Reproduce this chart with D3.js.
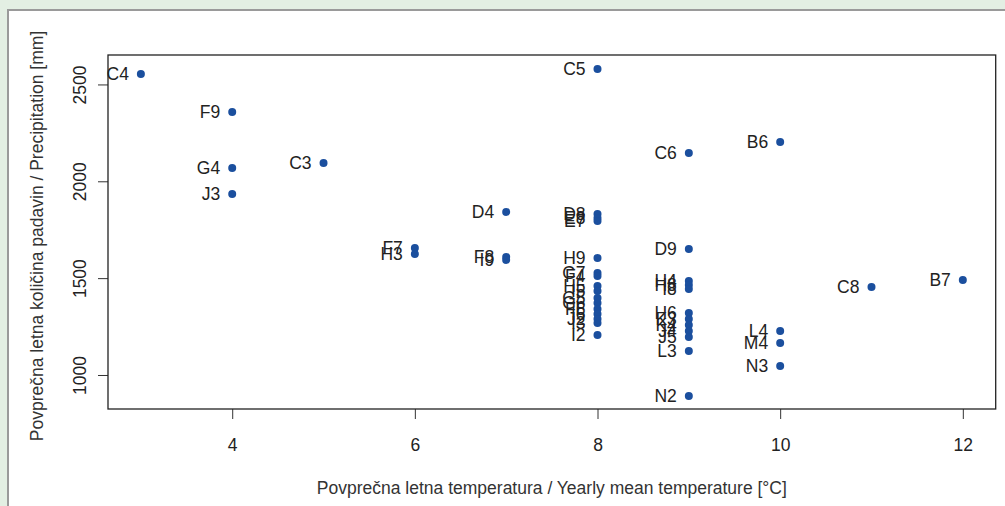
<!DOCTYPE html>
<html>
<head>
<meta charset="utf-8">
<script src="https://cdn.jsdelivr.net/npm/d3@7"></script>
<style>
html,body{margin:0;padding:0;background:#e3efe3;}
svg{display:block;}
text{font-family:"Liberation Sans",Arial,sans-serif;}
</style>
</head>
<body>
<svg id="c" width="1005" height="506"></svg>
<script>
const labels = ["C4","F9","G4","J3","C3","F7","H3","D4","F8","I9",
  "C5","D8","E8","E7","H9","G7","F4","H5","I5","G5","G6","F6","I6","J2","I3","I2",
  "C6","D9","H4","H8","I8","H6","K3","K4","J4","J5","L3","N2",
  "B6","L4","M4","N3","C8","B7"];
const temperature = [3,4,4,4,5,6,6,7,7,7,
  8,8,8,8,8,8,8,8,8,8,8,8,8,8,8,8,
  9,9,9,9,9,9,9,9,9,9,9,9,
  10,10,10,10,11,12];
const precipitation = [2554,2358,2069,1934,2095,1656,1625,1842,1609,1594,
  2580,1831,1811,1795,1604,1527,1511,1460,1434,1398,1372,1341,1315,1289,1268,1206,
  2146,1651,1485,1465,1444,1320,1289,1258,1227,1196,1124,892,
  2203,1227,1165,1046,1454,1490];
const xTicks = [4,6,8,10,12];
const yTicks = [1000,1500,2000,2500];
const xTitle = "Povprečna letna temperatura / Yearly mean temperature [°C]";
const yTitle = "Povprečna letna količina padavin / Precipitation [mm]";

const FS = 17.5;
const svg = d3.select("#c");
// panel
svg.append("rect").attr("x",8).attr("y",10).attr("width",1010).attr("height",510)
  .attr("fill","#fff").attr("stroke","#9a9a9a").attr("stroke-width",2);

const L=108, R=995.7, T=55, B=409;
const x = d3.scaleLinear().domain([2.64,12.36]).range([L,R]);
const y = d3.scaleLinear().domain([824.4,2652]).range([B,T]);

const g = svg.append("g");
// x axis
const xa = g.append("g").attr("transform",`translate(0,${B})`)
  .call(d3.axisBottom(x).tickValues(xTicks).tickSize(10).tickPadding(20).tickFormat(d3.format("d")));
xa.select(".domain").remove();
xa.selectAll("line").attr("stroke","#333");
xa.selectAll("text").attr("font-size",FS).attr("fill","#222");
// y axis
const ya = g.append("g").attr("transform",`translate(${L},0)`)
  .call(d3.axisLeft(y).tickValues(yTicks).tickSize(10).tickFormat(d3.format("d")));
ya.select(".domain").remove();
ya.selectAll("line").attr("stroke","#333");
ya.selectAll("text").attr("font-size",FS).attr("fill","#222")
  .attr("text-anchor","middle").attr("dy",null).attr("x",0).attr("y",0)
  .attr("transform","translate(-22,0) rotate(-90)");

// box
g.append("rect").attr("x",L).attr("y",T).attr("width",R-L).attr("height",B-T)
  .attr("fill","none").attr("stroke","#222").attr("stroke-width",1.3);

const data = labels.map((l,i)=>({l, t:temperature[i], p:precipitation[i]}));
g.selectAll("circle").data(data).join("circle")
  .attr("cx",d=>x(d.t)).attr("cy",d=>y(d.p)).attr("r",4)
  .attr("fill","#1b4f9e");
g.selectAll("text.lab").data(data).join("text").attr("class","lab")
  .attr("x",d=>x(d.t)-12).attr("y",d=>y(d.p)).attr("dy","0.36em")
  .attr("text-anchor","end").attr("font-size",FS).attr("fill","#222")
  .text(d=>d.l);

svg.append("text").attr("x",(L+R)/2).attr("y",494).attr("text-anchor","middle")
  .attr("font-size",FS).attr("fill","#333").text(xTitle);
svg.append("text").attr("transform",`translate(43,${(T+B)/2+4}) rotate(-90)`)
  .attr("text-anchor","middle").attr("font-size",FS).attr("fill","#333").text(yTitle);
</script>
</body>
</html>
